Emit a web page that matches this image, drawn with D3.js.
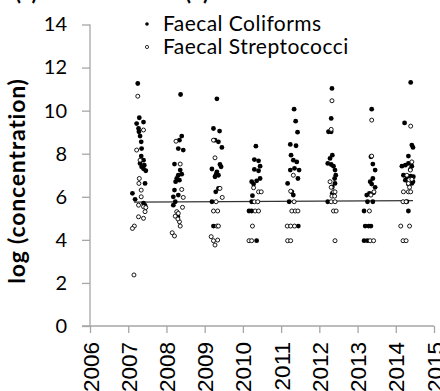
<!DOCTYPE html>
<html>
<head>
<meta charset="utf-8">
<script src="https://cdn.jsdelivr.net/npm/d3@7"></script>
<style>
  html, body { margin: 0; padding: 0; background: #fff; }
  svg { display: block; }
</style>
</head>
<body>
<svg id="chart" width="440" height="391"></svg>
<script>
// Faecal coliforms, [sampling date as decimal year, log concentration]
const coliforms = [
  [2007.25,11.26],[2007.29,9.67],[2007.22,9.4],[2007.40,9.47],[2007.27,9.17],[2007.28,9.02],[2007.31,8.82],
  [2007.34,8.55],[2007.35,8.24],[2007.34,7.89],[2007.40,7.70],[2007.31,7.55],[2007.42,7.47],[2007.35,7.39],
  [2007.46,7.21],[2007.40,7.30],[2007.44,6.62],[2007.11,6.16],[2007.18,5.88],[2007.40,5.70],[2007.44,5.60],
  [2008.37,10.75],[2008.40,8.82],[2008.34,8.63],[2008.31,8.24],[2008.44,8.17],[2008.21,7.52],[2008.36,7.24],
  [2008.31,7.0],[2008.40,7.05],[2008.27,6.85],[2008.24,6.7],[2008.34,6.77],[2008.21,6.31],[2008.31,6.08],
  [2008.18,6.0],[2008.23,5.77],[2008.18,5.61],[2008.30,5.07],
  [2009.32,10.55],[2009.23,9.17],[2009.39,9.05],[2009.27,8.63],[2009.36,8.55],[2009.45,8.29],[2009.19,7.29],
  [2009.32,7.16],[2009.43,7.39],[2009.36,7.0],[2009.27,6.93],[2009.40,7.5],[2009.30,7.05],[2009.36,6.39],
  [2009.29,6.23],[2009.19,5.77],[2009.23,4.64],
  [2010.34,8.35],[2010.30,7.73],[2010.41,7.67],[2010.30,7.27],[2010.41,7.21],[2010.45,7.42],[2010.23,6.70],
  [2010.36,6.74],[2010.45,6.85],[2010.28,6.59],[2010.25,6.05],[2010.23,5.77],[2010.16,5.34],[2010.23,5.34],
  [2010.36,3.96],
  [2011.34,10.07],[2011.38,9.51],[2011.43,9.0],[2011.24,8.43],[2011.39,8.37],[2011.26,7.93],[2011.32,7.70],
  [2011.41,7.62],[2011.24,7.24],[2011.35,7.32],[2011.47,7.24],[2011.44,6.85],[2011.17,6.62],[2011.28,6.23],
  [2011.32,6.08],[2011.21,5.77],[2011.45,4.64],
  [2012.33,11.03],[2012.31,9.64],[2012.24,9.02],[2012.31,9.02],[2012.34,7.93],[2012.28,7.78],[2012.22,7.55],
  [2012.31,7.5],[2012.37,7.42],[2012.41,7.24],[2012.43,7.0],[2012.40,6.85],[2012.41,6.62],[2012.34,6.46],
  [2012.34,6.16],[2012.22,5.77],
  [2013.37,10.07],[2013.35,7.86],[2013.40,7.52],[2013.46,7.24],[2013.40,6.85],[2013.33,6.70],[2013.37,6.59],
  [2013.46,6.44],[2013.24,6.08],[2013.31,6.16],[2013.42,6.19],[2013.26,5.77],[2013.40,5.77],[2013.17,5.34],
  [2013.20,4.64],[2013.29,4.64],[2013.35,4.64],[2013.17,3.96],[2013.26,3.96],
  [2014.39,11.31],[2014.23,9.43],[2014.42,8.40],[2014.45,8.29],[2014.33,7.89],[2014.16,7.42],[2014.25,7.47],
  [2014.33,7.55],[2014.42,7.42],[2014.38,7.27],[2014.20,7.0],[2014.29,6.93],[2014.39,6.96],[2014.46,6.93],
  [2014.25,6.77],[2014.45,6.7],[2014.33,6.59],[2014.42,6.62],[2014.29,5.77],[2014.33,5.34]
];

// Faecal streptococci, [sampling date as decimal year, log concentration]
const streptococci = [
  [2007.25,10.67],[2007.40,9.1],[2007.22,8.17],[2007.31,7.70],[2007.29,6.85],[2007.28,6.62],[2007.34,6.31],
  [2007.34,6.0],[2007.27,5.61],[2007.40,5.54],[2007.46,5.5],[2007.44,5.31],[2007.27,5.07],[2007.40,5.0],
  [2007.16,4.64],[2007.11,4.53],[2007.15,2.37],
  [2008.25,8.58],[2008.36,7.52],[2008.40,6.34],[2008.44,5.97],[2008.42,5.51],[2008.27,5.31],[2008.31,5.23],
  [2008.23,5.1],[2008.34,4.84],[2008.36,4.64],[2008.30,4.97],[2008.15,4.33],[2008.21,4.18],
  [2009.23,8.63],[2009.27,7.81],[2009.40,6.39],[2009.46,5.97],[2009.30,5.77],[2009.23,5.34],[2009.34,5.34],
  [2009.32,4.64],[2009.36,4.64],[2009.17,4.15],[2009.23,3.96],[2009.34,3.99],[2009.27,3.76],
  [2010.28,6.42],[2010.41,6.23],[2010.48,6.23],[2010.30,5.77],[2010.39,5.77],[2010.32,5.34],[2010.41,5.34],
  [2010.25,4.64],[2010.16,3.96],[2010.23,3.96],
  [2011.32,7.0],[2011.25,6.26],[2011.34,5.77],[2011.28,5.34],[2011.37,5.34],[2011.44,5.34],[2011.16,4.64],
  [2011.25,4.64],[2011.35,4.64],[2011.17,3.96],[2011.25,3.96],
  [2012.33,10.46],[2012.31,9.13],[2012.28,6.70],[2012.31,6.44],[2012.37,6.23],[2012.41,6.23],[2012.33,6.03],
  [2012.40,6.03],[2012.31,5.77],[2012.41,5.77],[2012.37,5.34],[2012.44,5.34],[2012.41,3.96],
  [2013.37,9.56],[2013.37,7.89],[2013.43,6.23],[2013.35,6.08],[2013.31,5.34],[2013.33,3.96],[2013.42,3.96],
  [2014.39,9.28],[2014.42,7.62],[2014.38,7.24],[2014.29,7.0],[2014.42,6.81],[2014.33,6.62],[2014.36,6.44],
  [2014.20,6.23],[2014.33,6.23],[2014.39,6.23],[2014.19,5.77],[2014.27,5.77],[2014.13,4.64],[2014.36,4.64],
  [2014.19,3.96],[2014.27,3.96]
];

// Linear trend over the sampling period
const trend = [[2007.15, 5.75], [2014.45, 5.82]];

const yearTicks = [2006, 2007, 2008, 2009, 2010, 2011, 2012, 2013, 2014, 2015];
const valueTicks = [0, 2, 4, 6, 8, 10, 12, 14];
const seriesNames = ["Faecal Coliforms", "Faecal Streptococci"];
const panelTitles = ["(a)", "(b)"];

const svg = d3.select("#chart");
const x = d3.scaleLinear().domain([2006, 2015]).range([90, 434]);
const y = d3.scaleLinear().domain([0, 14]).range([326, 24.5]);
const axisColor = "#a6a6a6";
const sans = "Lato, 'Open Sans', sans-serif";

svg.append("rect").attr("width", 440).attr("height", 391).attr("fill", "#fff");

// Panel titles, running off the top edge
svg.selectAll("text.title").data(panelTitles).join("text")
  .attr("class", "title")
  .attr("x", (d, i) => i === 0 ? 15 : 185)
  .attr("y", 0)
  .attr("font-family", sans)
  .attr("font-weight", "bold")
  .attr("font-size", 22)
  .attr("fill", "#000")
  .text(d => d);

// Y axis
const yAxis = svg.append("g").attr("transform", "translate(90,0)")
  .call(d3.axisLeft(y).tickValues(valueTicks).tickSize(8).tickPadding(15).tickFormat(d3.format("d")));
yAxis.select(".domain").attr("stroke", axisColor).attr("stroke-width", 1.3).attr("d", `M0,${y(14)}V${y(0)}`);
yAxis.selectAll(".tick line").attr("stroke", axisColor).attr("stroke-width", 1.3);
yAxis.selectAll(".tick text")
  .attr("font-family", sans)
  .attr("font-size", 20)
  .attr("fill", "#000");

// X axis
const xAxis = svg.append("g").attr("transform", `translate(0,${y(0)})`)
  .call(d3.axisBottom(x).tickValues(yearTicks).tickSize(7).tickFormat(d3.format("d")));
xAxis.select(".domain").attr("stroke", axisColor).attr("stroke-width", 1.3).attr("d", `M82,0H${x(2015)}`);
xAxis.selectAll(".tick line").attr("stroke", axisColor).attr("stroke-width", 1.3);
xAxis.selectAll(".tick text")
  .attr("font-family", "'Liberation Sans', Arial, sans-serif")
  .attr("font-size", 22.5)
  .attr("fill", "#000")
  .attr("text-anchor", "end")
  .attr("transform", "rotate(-90)")
  .attr("x", -16)
  .attr("y", 0)
  .attr("dy", "0.36em");

// Y axis title
svg.append("text")
  .attr("transform", `translate(25,${181}) rotate(-90)`)
  .attr("text-anchor", "middle")
  .attr("font-family", sans)
  .attr("font-weight", "bold")
  .attr("font-size", 23)
  .attr("letter-spacing", 0.8)
  .attr("fill", "#000")
  .text("log (concentration)");

// Trend line
svg.append("path")
  .datum(trend)
  .attr("fill", "none")
  .attr("stroke", "#333")
  .attr("stroke-width", 1.4)
  .attr("d", d3.line().x(d => x(d[0])).y(d => y(d[1])));

// Faecal coliforms: filled dots
svg.append("g").selectAll("circle").data(coliforms).join("circle")
  .attr("cx", d => x(d[0]))
  .attr("cy", d => y(d[1]))
  .attr("r", 2.4)
  .attr("fill", "#000");

// Faecal streptococci: open circles
svg.append("g").selectAll("circle").data(streptococci).join("circle")
  .attr("cx", d => x(d[0]))
  .attr("cy", d => y(d[1]))
  .attr("r", 2.0)
  .attr("fill", "#fff")
  .attr("stroke", "#000")
  .attr("stroke-width", 0.9);

// Legend
const legend = svg.append("g");
const legendRows = legend.selectAll("g").data(seriesNames).join("g")
  .attr("transform", (d, i) => `translate(147,${24 + i * 23})`);
legendRows.append("circle")
  .attr("r", (d, i) => i === 0 ? 1.8 : 1.6)
  .attr("fill", (d, i) => i === 0 ? "#000" : "#fff")
  .attr("stroke", (d, i) => i === 0 ? "none" : "#000")
  .attr("stroke-width", 0.8);
legendRows.append("text")
  .attr("x", 16)
  .attr("dy", "0.35em")
  .attr("font-family", sans)
  .attr("font-size", 21)
  .attr("letter-spacing", 0.45)
  .attr("fill", "#000")
  .text(d => d);
</script>
</body>
</html>
